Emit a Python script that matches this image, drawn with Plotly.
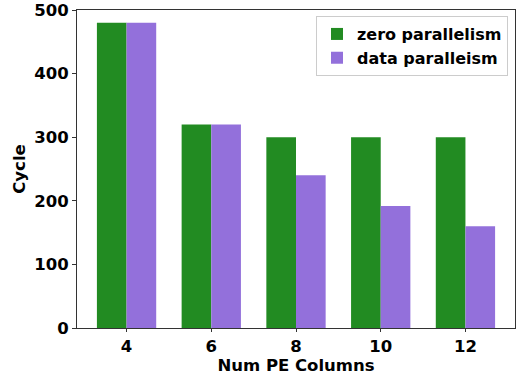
import plotly.graph_objects as go

categories = [4, 6, 8, 10, 12]
zero_parallelism = [480, 320, 300, 300, 300]
data_parallelism = [480, 320, 240, 192, 160]
y_ticks = [0, 100, 200, 300, 400, 500]

font = dict(family="DejaVu Sans", size=16.5, color="black", weight="bold")

fig = go.Figure()
fig.add_trace(go.Bar(x=categories, y=zero_parallelism, name="zero parallelism",
                     marker=dict(color="#228B22", line=dict(width=0))))
fig.add_trace(go.Bar(x=categories, y=data_parallelism, name="data paralleism",
                     marker=dict(color="#9370DB", line=dict(width=0))))

fig.update_layout(
    width=517, height=376,
    margin=dict(l=77, r=2, t=10, b=48),
    paper_bgcolor="white", plot_bgcolor="white",
    barmode="group", bargap=0.3, bargroupgap=0,
    font=font,
    legend=dict(x=0.984, y=0.981, xanchor="right", yanchor="top",
                bordercolor="#cccccc", borderwidth=1, bgcolor="rgba(255,255,255,0.8)",
                font=dict(family="DejaVu Sans", size=16, weight="bold"),
                itemwidth=30, tracegroupgap=0),
    xaxis=dict(range=[2.83, 13.17], tickvals=categories, ticktext=[str(c) for c in categories],
               showgrid=False, zeroline=False, showline=True, linecolor="#333", linewidth=1,
               mirror=True, ticks="outside", ticklen=3, tickcolor="#333",
               title=dict(text="Num PE Columns", standoff=0, font=font), tickfont=font),
    yaxis=dict(range=[0, 500], tickvals=y_ticks, showgrid=False, zeroline=False,
               showline=True, linecolor="#333", linewidth=1, mirror=True,
               ticks="outside", ticklen=4, tickcolor="#333",
               title=dict(text="Cycle", standoff=4, font=font), tickfont=font),
)

fig.write_html("out.html")
